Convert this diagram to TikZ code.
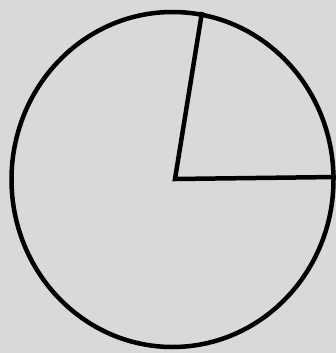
\documentclass[tikz,border=0pt]{standalone}
\begin{document}
\begin{tikzpicture}[x=1pt,y=-1pt,line width=4.5pt,line join=miter]
\fill[gray!30] (0,0) rectangle (336,353);
\useasboundingbox (0,0) rectangle (336,353);
\coordinate (c) at (175,179);
\coordinate (t) at (202,12);
\coordinate (r) at (336,177);
\draw (172.5,179.5) ellipse [x radius=161, y radius=167.5];
\draw (t) -- (c) -- (r);
\end{tikzpicture}
\end{document}
